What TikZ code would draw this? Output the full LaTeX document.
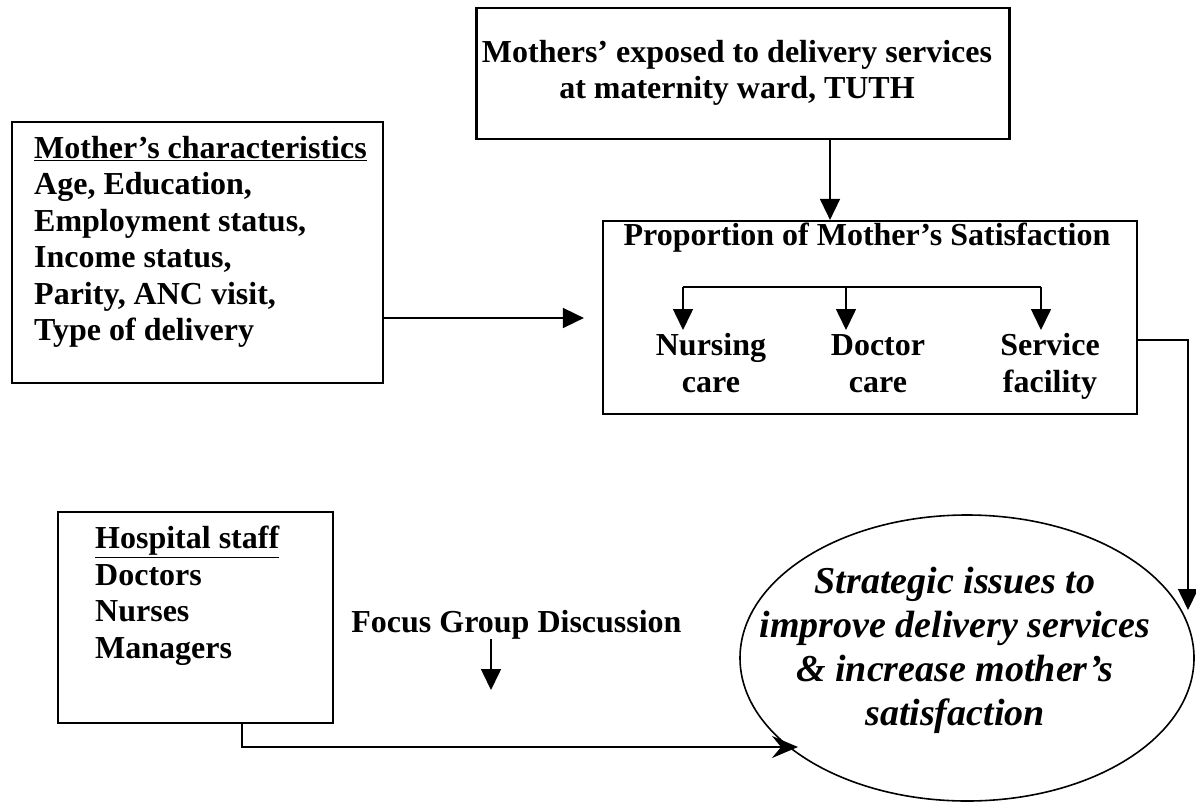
\documentclass[tikz,border=0pt]{standalone}
\usepackage{fontspec}
\setmainfont{Liberation Serif}
\usetikzlibrary{arrows.meta,shapes.geometric,positioning}
\tikzset{boxframe/.style={draw,line width=2.2pt,inner sep=0pt},txt/.style={inner sep=0pt,font=\fontsize{32}{36.5}\selectfont\bfseries},link/.style={line width=1.6pt},tri/.style={-{Triangle[length=21pt,width=20pt]}},stl/.style={-{Stealth[length=26pt,width=22pt,inset=9pt]}}}

\begin{document}
\begin{tikzpicture}[x=1pt,y=-1pt]
			\useasboundingbox (0,0) rectangle (1196,803);
			\node[boxframe,minimum width=533pt,minimum height=131pt] (expo) at (743,73.5) {};
			\node[txt,align=center,anchor=north] (expotxt) at (737,40) {Mothers’ exposed to delivery services\\at maternity ward, TUTH};
			\node[boxframe,minimum width=371pt,minimum height=261pt] (chars) at (197.5,252.5) {};
			\node[txt,align=left,anchor=north west] (charstxt) at (34,136) {\underline{Mother’s characteristics}\\Age, Education,\\Employment status,\\Income status,\\Parity, ANC visit,\\Type of delivery};
			\node[boxframe,minimum width=534pt,minimum height=193pt] (satbox) at (870,317.5) {};
			\node[txt,anchor=base] (sattitle) at (867,245) {Proportion of Mother’s Satisfaction};
			\node[txt,align=center,anchor=north] (nurse) at (711,330) {\strut Nursing\\care};
			\node[txt,align=center,anchor=north] (doctor) at (878,330) {\strut Doctor\\care};
			\node[txt,align=center,anchor=north] (facil) at (1050,330) {\strut Service\\facility};
			\coordinate (bnurse) at (683,287);
			\coordinate (bdoc) at (846,287);
			\coordinate (bfac) at (1041,287);
			\node[boxframe,minimum width=275pt,minimum height=211pt] (hosp) at (195.5,617.5) {};
			\node[txt,align=left,anchor=north west] (hosptxt) at (95,526) {\underline{Hospital staff}\\Doctors\\Nurses\\Managers};
			\node[txt,anchor=base] (focus) at (516.5,632) {Focus Group Discussion};
			\coordinate (fgtip) at (491,690);
			\node[draw,ellipse,line width=1.6pt,minimum width=454pt,minimum height=286pt,inner sep=0pt] (ell) at (967,658) {};
			\node[inner sep=0pt,align=center,font=\fontsize{38}{44}\selectfont\bfseries\itshape] (strat) at (955,650) {Strategic issues to\\improve delivery services\\\& increase mother’s\\satisfaction};
			\coordinate (etip) at (798,747);
			\coordinate (rtip) at (1188,610);
			\draw[link,tri] ([xshift=87pt]expo.south) -- ([xshift=87pt]expo.south |- satbox.north);
			\draw[link,tri,shorten >=18pt] ([yshift=-65.5pt]chars.east) -- ([yshift=-65.5pt]chars.east -| satbox.west);
			\draw[link] (bnurse) -- (bfac);
			\foreach \b in {bnurse,bdoc,bfac}
				\draw[link,tri] (\b) -- (\b |- nurse.north);
			\draw[link,tri] ([yshift=-22.5pt]satbox.east) -| (rtip);
			\draw[link,tri] (focus.south -| fgtip) -- (fgtip);
			\draw[link,stl] ([xshift=46.5pt]hosp.south) |- (etip);
		\end{tikzpicture}
\end{document}
